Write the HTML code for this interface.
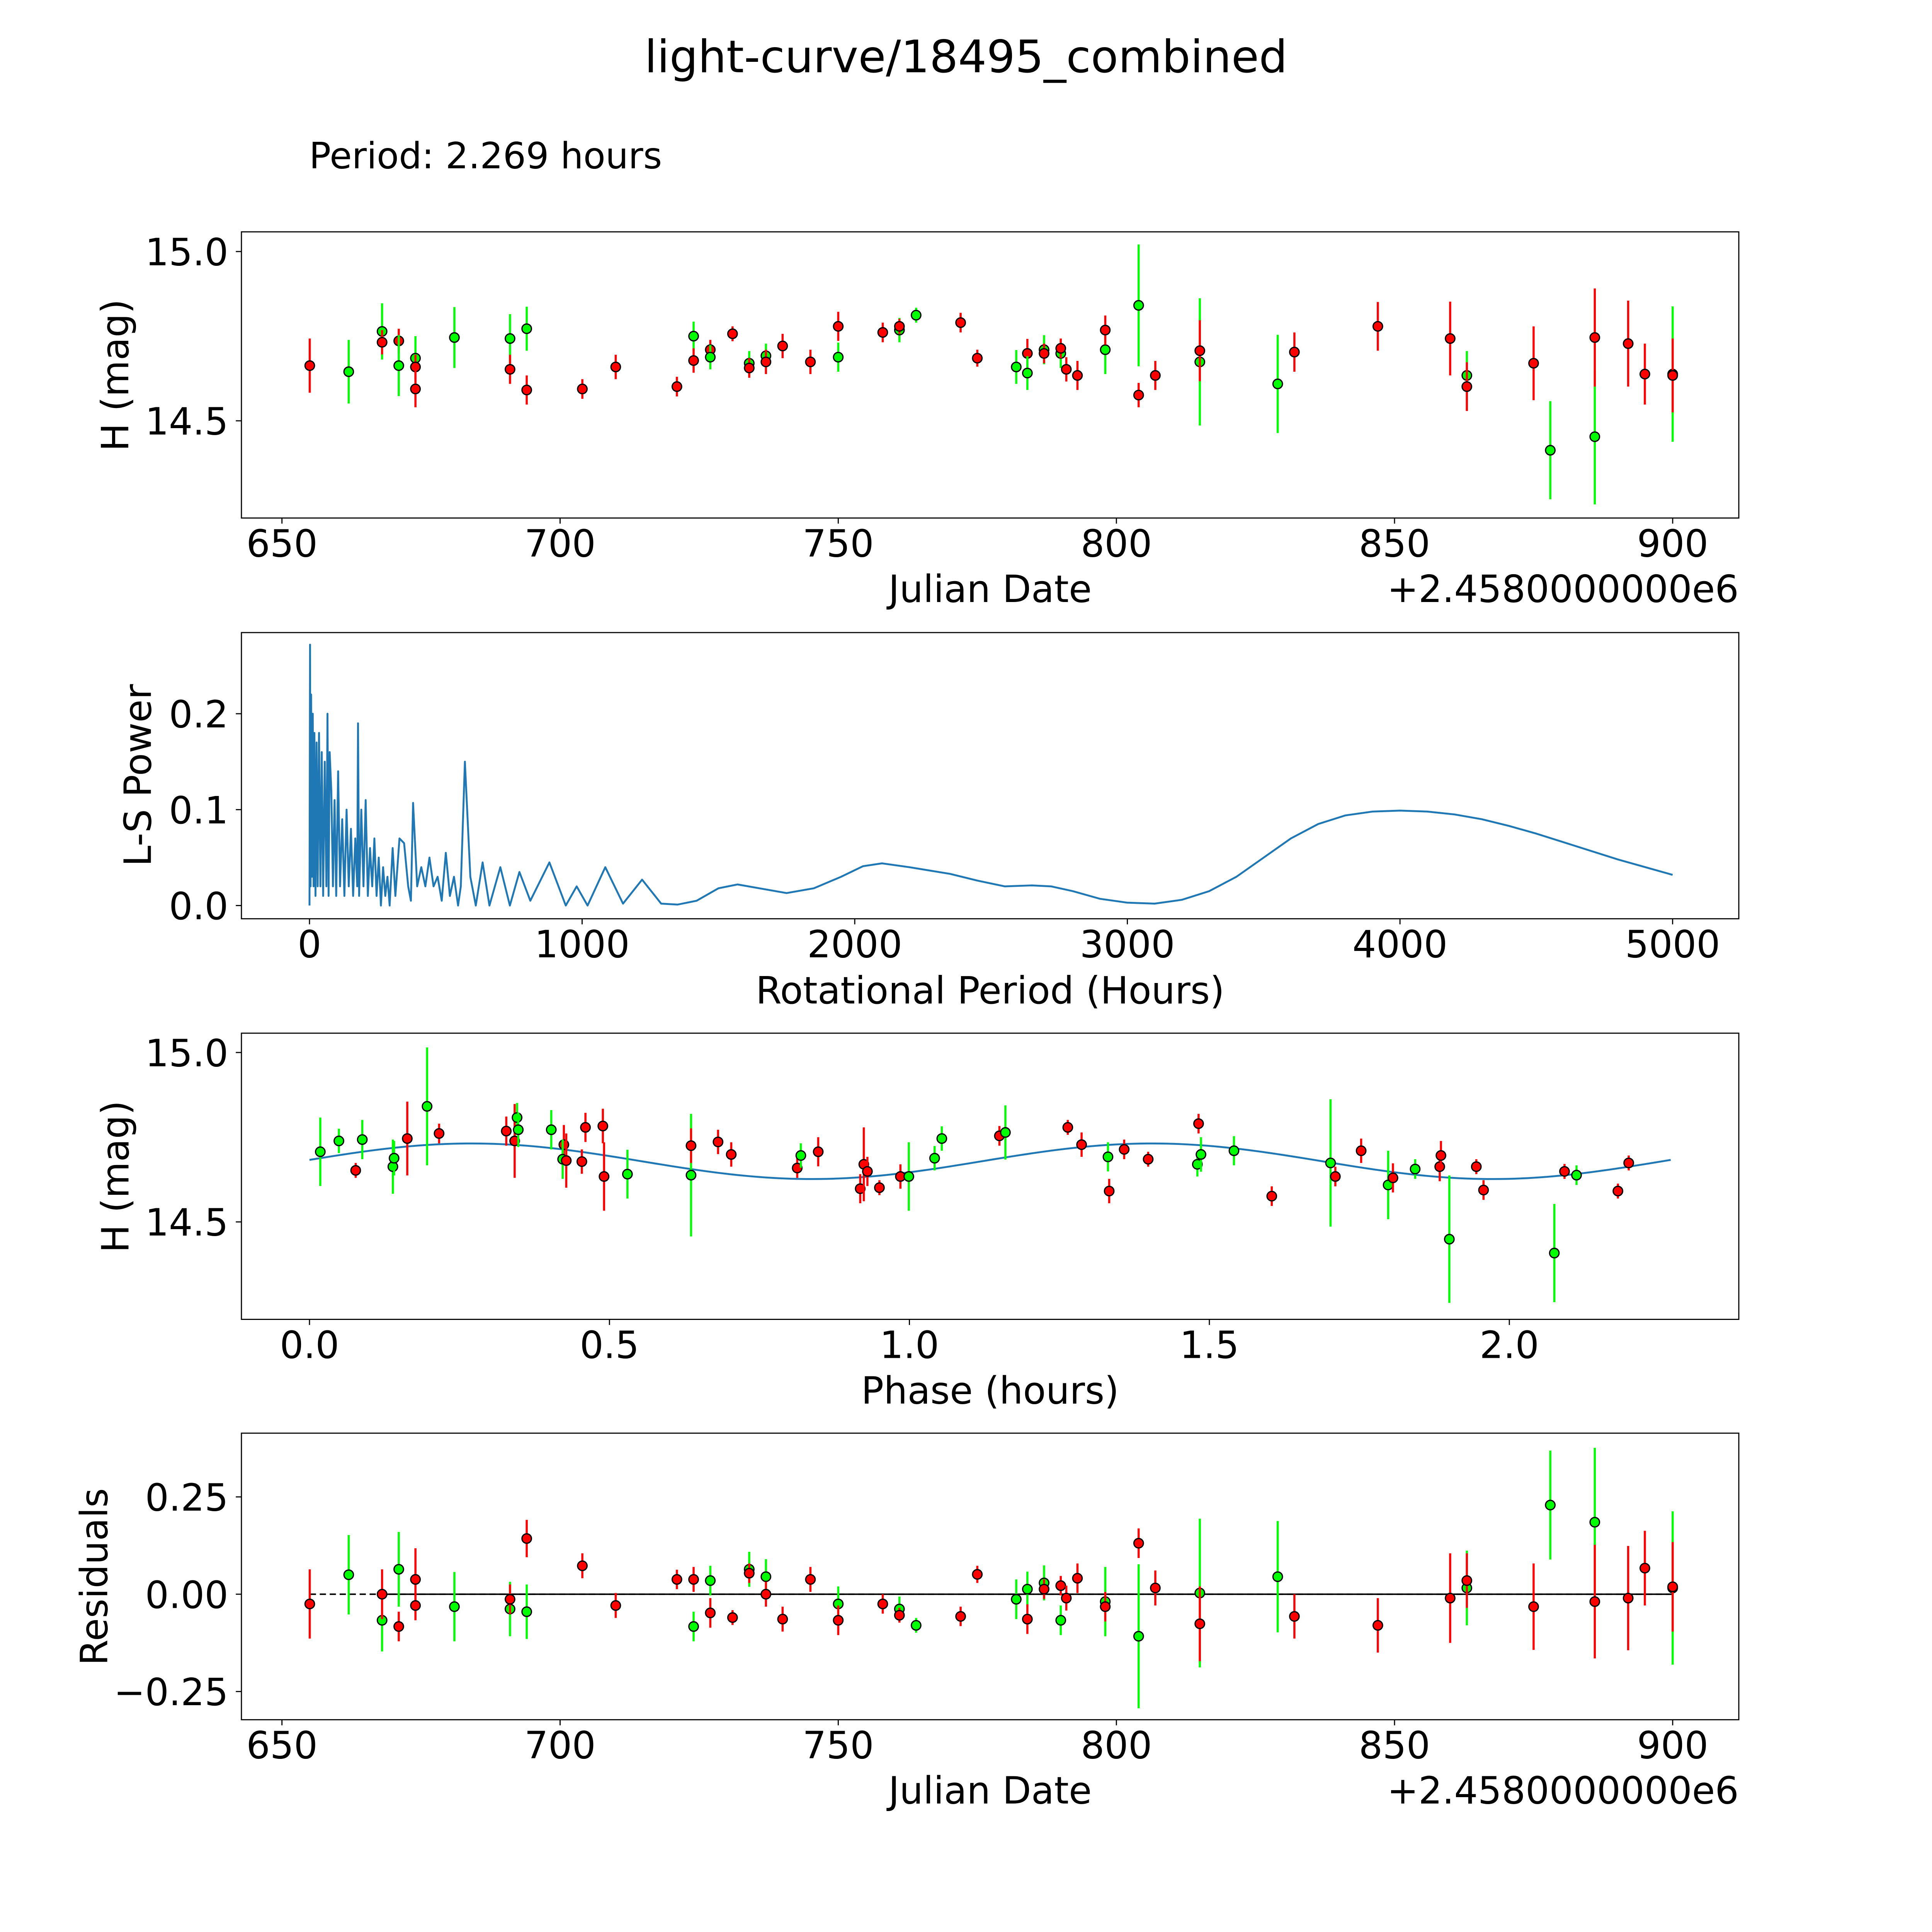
<!DOCTYPE html>
<html><head><meta charset="utf-8"><style>
html,body{margin:0;padding:0;background:#fff;overflow:hidden;}
svg{display:block;position:fixed;left:0;top:0;width:100vw;height:100vh;}
text{font-family:"DejaVu Sans","Liberation Sans",sans-serif;fill:#000;}
</style></head><body>
<svg id="chart" viewBox="0 0 1550 1550" preserveAspectRatio="none" xmlns="http://www.w3.org/2000/svg">
<rect width="1550" height="1550" fill="#fff"/>
<text x="775" y="58" font-size="36" text-anchor="middle">light-curve/18495_combined</text>
<text x="248" y="135" font-size="29">Period: 2.269 hours</text>
<g id="p1"></g>
<g id="p2"></g>
<g id="p3"></g>
<g id="p4"></g>
</svg>
<script>
// Panel 1 data: julian date offset, magnitude, error, color (g=green,r=red)
const lcJd=[655,662,668,668,671,671,674,674,674,681,691,691,694,694,704,710,721,724,724,727,727,731,734,734,737,737,740,745,750,750,758,761,761,764,772,775,782,784,784,787,787,790,790,791,793,798,798,804,804,807,815,815,829,832,847,860,863,863,875,878,886,886,892,895,900,900];
const lcMag=[14.663,14.645,14.764,14.732,14.736,14.663,14.685,14.659,14.594,14.746,14.743,14.652,14.772,14.591,14.594,14.659,14.601,14.750,14.678,14.710,14.688,14.757,14.670,14.656,14.692,14.674,14.721,14.674,14.688,14.779,14.761,14.768,14.779,14.812,14.790,14.685,14.659,14.699,14.641,14.710,14.699,14.699,14.714,14.652,14.634,14.710,14.768,14.841,14.576,14.634,14.674,14.707,14.609,14.703,14.779,14.743,14.634,14.601,14.670,14.413,14.453,14.746,14.728,14.638,14.638,14.634];
const lcErr=[0.08,0.094,0.083,0.036,0.036,0.09,0.065,0.036,0.054,0.09,0.072,0.043,0.065,0.043,0.029,0.036,0.029,0.043,0.036,0.029,0.036,0.022,0.036,0.029,0.036,0.036,0.036,0.036,0.043,0.043,0.029,0.036,0.022,0.022,0.029,0.025,0.05,0.043,0.05,0.043,0.029,0.043,0.029,0.036,0.043,0.072,0.043,0.18,0.036,0.043,0.188,0.09,0.145,0.058,0.072,0.109,0.072,0.072,0.109,0.145,0.2,0.145,0.127,0.09,0.2,0.109];
const lcCol="rggrrggrrggrgrrrrgrrgrgrgrrrgrrgrgrrgrggrgrrrgrgrrgrgrrrgrrggrrrgr";
// Panel 2 periodogram: period (hours), power
const lsPeriod=[0,2,4,6,9,12,15,18,22,26,30,35,40,45,50,56,62,66,70,74,80,86,92,98,105,112,120,128,136,144,152,160,168,175,178,182,190,198,206,214,222,230,238,246,254,262,270,278,286,294,305,315,330,347,362,372,380,395,410,425,440,455,470,485,500,515,530,545,555,570,590,610,635,660,700,735,770,810,880,940,980,1020,1085,1150,1220,1290,1350,1420,1500,1570,1650,1750,1850,1950,2030,2100,2200,2350,2450,2550,2650,2720,2800,2900,3000,3100,3200,3300,3400,3500,3600,3700,3800,3900,4000,4100,4200,4300,4400,4500,4600,4700,4800,4900,5000];
const lsPower=[0,0.272,0.02,0.22,0.03,0.2,0.02,0.18,0.01,0.17,0.02,0.18,0.02,0.16,0.01,0.15,0.02,0.2,0.01,0.16,0.12,0.02,0.11,0.01,0.14,0.02,0.09,0.01,0.1,0.02,0.08,0.01,0.07,0.02,0.19,0.01,0.1,0.02,0.11,0.01,0.06,0.02,0.07,0.01,0.05,0,0.04,0.01,0.03,0,0.06,0.01,0.07,0.065,0.02,0.005,0.107,0.02,0.04,0.02,0.05,0.02,0.03,0.005,0.055,0.01,0.03,0,0.02,0.15,0.03,0,0.045,0,0.04,0,0.035,0.005,0.045,0,0.02,0,0.04,0.002,0.027,0.002,0.001,0.005,0.018,0.022,0.018,0.013,0.018,0.03,0.041,0.044,0.04,0.033,0.026,0.02,0.021,0.02,0.015,0.007,0.003,0.002,0.006,0.015,0.03,0.05,0.07,0.085,0.094,0.098,0.099,0.098,0.095,0.09,0.083,0.075,0.066,0.057,0.048,0.04,0.032];
// Panel 3 phase data (phase hours, magnitude, error)
const phPhase=[0.018,0.049,0.077,0.088,0.139,0.141,0.163,0.196,0.216,0.328,0.342,0.346,0.348,0.403,0.424,0.422,0.428,0.454,0.460,0.489,0.491,0.530,0.636,0.636,0.681,0.703,0.813,0.819,0.848,0.918,0.924,0.930,0.950,0.985,0.999,1.042,1.054,1.150,1.160,1.264,1.287,1.331,1.333,1.358,1.398,1.482,1.480,1.486,1.541,1.604,1.702,1.710,1.753,1.798,1.806,1.843,1.884,1.886,1.900,1.945,1.957,2.075,2.092,2.112,2.181,2.199];
const phMag=[14.707,14.739,14.652,14.743,14.663,14.688,14.746,14.841,14.761,14.768,14.739,14.808,14.772,14.772,14.728,14.685,14.681,14.678,14.779,14.783,14.634,14.641,14.638,14.725,14.736,14.699,14.659,14.696,14.707,14.598,14.670,14.649,14.601,14.634,14.634,14.688,14.746,14.754,14.764,14.779,14.728,14.692,14.591,14.714,14.685,14.790,14.670,14.699,14.710,14.576,14.674,14.634,14.710,14.609,14.630,14.656,14.663,14.696,14.449,14.663,14.594,14.408,14.649,14.638,14.591,14.674];
const phErr=[0.101,0.036,0.022,0.058,0.08,0.051,0.109,0.174,0.029,0.043,0.109,0.043,0.051,0.058,0.058,0.058,0.08,0.036,0.043,0.051,0.101,0.072,0.181,0.051,0.036,0.036,0.029,0.036,0.043,0.043,0.109,0.043,0.022,0.036,0.101,0.036,0.036,0.029,0.08,0.022,0.036,0.043,0.036,0.029,0.022,0.029,0.036,0.051,0.043,0.029,0.188,0.029,0.036,0.101,0.043,0.029,0.043,0.043,0.188,0.022,0.029,0.145,0.022,0.029,0.022,0.022];
const phCol="ggrgggrgrrrgggrgrrrrrggrrrrgrrrrrrgggrgrrgrrrrgggrgrrgrgrrgrrgrgrr";
// model fit params: mean, amplitude, phase offset, period
const fitParams=[14.679,0.0525,0.076,2.269];
// Panel 4 residuals
const resJd=[655,662,668,668,671,671,674,674,681,691,691,694,694,704,710,721,724,724,727,727,731,734,734,737,737,740,745,750,750,758,761,761,764,772,775,782,784,784,787,787,790,790,791,793,798,798,804,804,807,815,815,829,832,847,860,863,863,875,878,886,886,892,895,900,900];
const resVal=[-0.025,0.05,-0.067,0,0.064,-0.083,0.038,-0.029,-0.032,-0.038,-0.013,-0.045,0.143,0.073,-0.029,0.038,-0.083,0.038,-0.048,0.035,-0.06,0.064,0.054,0.045,0,-0.064,0.038,-0.025,-0.067,-0.025,-0.038,-0.054,-0.08,-0.057,0.051,-0.013,0.013,-0.064,0.029,0.013,-0.067,0.022,-0.01,0.041,-0.019,-0.032,-0.108,0.131,0.016,0.003,-0.076,0.045,-0.057,-0.08,-0.01,0.016,0.035,-0.032,0.229,0.185,-0.019,-0.01,0.067,0.016,0.019];
const resErr=[0.089,0.102,0.08,0.064,0.096,0.038,0.08,0.038,0.089,0.07,0.038,0.07,0.048,0.032,0.032,0.025,0.038,0.032,0.038,0.038,0.019,0.045,0.025,0.045,0.032,0.032,0.032,0.045,0.038,0.025,0.032,0.019,0.019,0.025,0.022,0.051,0.045,0.038,0.045,0.025,0.038,0.025,0.032,0.038,0.089,0.038,0.185,0.038,0.045,0.191,0.096,0.143,0.057,0.07,0.115,0.096,0.07,0.111,0.14,0.191,0.146,0.134,0.096,0.197,0.115];
const resCol="rggrgrrrggrgrrrrgrrgrgrgrrrgrrgrgrrggrgrgrrrgrgrrgrgrrrgrrggrrrgr";

const NS="http://www.w3.org/2000/svg";
function mk(parent,tag,attrs,txt){const e=document.createElementNS(NS,tag);for(const k in attrs)e.setAttribute(k,attrs[k]);if(txt!==undefined)e.textContent=txt;parent.appendChild(e);return e;}
const GREEN="#00ff00",RED="#ff0000";
const L=193.7,R=1395.0,TS=30,XC=(193.7+1395.0)/2;

function frame(g,y0,y1){
  const r=mk(g,'rect',{x:L,y:y0,width:R-L,height:y1-y0,fill:'none',stroke:'#000','stroke-width':0.9});
  
  
}
function xTicks(g,vals,labels,sx,yb){
  vals.forEach((v,i)=>{const x=sx(v);
    const l=mk(g,'line',{x1:x,x2:x,y1:yb,y2:yb+4.5,stroke:'#000','stroke-width':0.9});
    
    
    const t=mk(g,'text',{x:x,y:yb+31,'font-size':TS,'text-anchor':'middle'},labels[i]);
    
    
  });
}
function yTicks(g,vals,labels,sy){
  vals.forEach((v,i)=>{const y=sy(v);
    const l=mk(g,'line',{x1:L-4.5,x2:L,y1:y,y2:y,stroke:'#000','stroke-width':0.9});
    
    
    const t=mk(g,'text',{x:L-10.5,y:y+11,'font-size':TS,'text-anchor':'end'},labels[i]);
    
    
  });
}
function label(g,txt,x,y,rot,name){
  const t=mk(g,'text',{x:x,y:y,'font-size':TS,'text-anchor':'middle',transform:rot?`rotate(-90 ${x} ${y})`:''},txt);
  
  
}
function offsetLabel(g,y){
  const o=mk(g,'text',{x:R,y:y,'font-size':TS,'text-anchor':'end'},'+2.4580000000e6');
  
  
}
function point(g,x,y,eTop,eBot,col){
  const c=col==='g'?GREEN:RED;
  const l=mk(g,'line',{x1:x,x2:x,y1:eTop,y2:eBot,stroke:c,'stroke-width':1.7});
  
  
  const m=mk(g,'circle',{cx:x,cy:y,r:3.8,fill:c,stroke:'#000','stroke-width':1});
  
  
}

// Panel 1
(function(){
  const g=document.getElementById('p1');
  const sx=d=>226.2+(d-650)*4.463, sy=m=>201.8+(15-m)*271.6;
  lcJd.forEach((d,i)=>point(g,sx(d),sy(lcMag[i]),sy(lcMag[i]+lcErr[i]),sy(lcMag[i]-lcErr[i]),lcCol[i]));
  frame(g,186.0,415.6);
  xTicks(g,[650,700,750,800,850,900],['650','700','750','800','850','900'],sx,415.6);
  yTicks(g,[14.5,15.0],['14.5','15.0'],sy);
  label(g,'Julian Date',XC,483,false,'x-axis-title');
  offsetLabel(g,483);
  label(g,'H (mag)',103,301,true,'y-axis-title');
})();
// Panel 2
(function(){
  const g=document.getElementById('p2');
  const sx=p=>248.3+p*0.21872, sy=v=>726.5-v*769.5;
  const pts=lsPeriod.map((p,i)=>sx(p).toFixed(2)+','+sy(lsPower[i]).toFixed(2)).join(' ');
  const pl=mk(g,'polyline',{points:pts,fill:'none',stroke:'#1f77b4','stroke-width':1.5,'stroke-linejoin':'round'});
  
  
  frame(g,507.5,737.1);
  xTicks(g,[0,1000,2000,3000,4000,5000],['0','1000','2000','3000','4000','5000'],sx,737.1);
  yTicks(g,[0,0.1,0.2],['0.0','0.1','0.2'],sy);
  label(g,'Rotational Period (Hours)',XC,805,false,'x-axis-title');
  label(g,'L-S Power',121,622,true,'y-axis-title');
})();
// Panel 3
(function(){
  const g=document.getElementById('p3');
  const sx=p=>248.3+p*481.3, sy=m=>844.4+(15-m)*271.8;
  const [mu,A,phi,P]=fitParams;
  const curve=[];
  for(let i=0;i<=200;i++){const p=P*i/200;curve.push(sx(p).toFixed(2)+','+sy(mu+A*Math.sin(4*Math.PI*p/P+phi)).toFixed(2));}
  const pl=mk(g,'polyline',{points:curve.join(' '),fill:'none',stroke:'#1f77b4','stroke-width':1.5});
  
  
  phPhase.forEach((p,i)=>point(g,sx(p),sy(phMag[i]),sy(phMag[i]+phErr[i]),sy(phMag[i]-phErr[i]),phCol[i]));
  frame(g,828.9,1058.5);
  xTicks(g,[0,0.5,1,1.5,2],['0.0','0.5','1.0','1.5','2.0'],sx,1058.5);
  yTicks(g,[14.5,15.0],['14.5','15.0'],sy);
  label(g,'Phase (hours)',XC,1126,false,'x-axis-title');
  label(g,'H (mag)',103,944,true,'y-axis-title');
})();
// Panel 4
(function(){
  const g=document.getElementById('p4');
  const sx=d=>226.2+(d-650)*4.463, sy=r=>1279.0-r*312.3;
  const d1=mk(g,'line',{x1:sx(655),x2:sx(900),y1:sy(0),y2:sy(0),stroke:'#000','stroke-width':1.2,'stroke-dasharray':'5,3'});
  
  
  const d2=mk(g,'line',{x1:sx(668),x2:sx(900),y1:sy(0),y2:sy(0),stroke:'#000','stroke-width':1.2});
  
  
  resJd.forEach((d,i)=>point(g,sx(d),sy(resVal[i]),sy(resVal[i]+resErr[i]),sy(resVal[i]-resErr[i]),resCol[i]));
  frame(g,1149.8,1379.7);
  xTicks(g,[650,700,750,800,850,900],['650','700','750','800','850','900'],sx,1379.7);
  yTicks(g,[-0.25,0,0.25],['\u22120.25','0.00','0.25'],sy);
  label(g,'Julian Date',XC,1447,false,'x-axis-title');
  offsetLabel(g,1447);
  label(g,'Residuals',86,1265,true,'y-axis-title');
})();
</script>
</body></html>
